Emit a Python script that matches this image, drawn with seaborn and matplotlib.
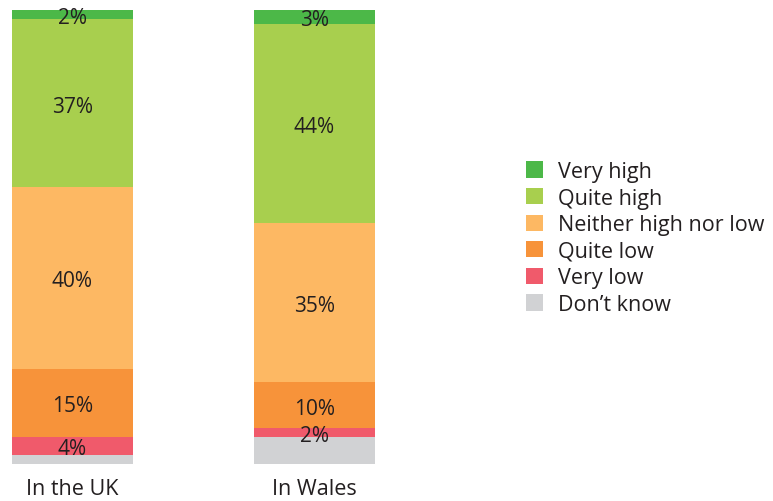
import seaborn as sns
import matplotlib.pyplot as plt
import pandas as pd
import numpy as np
from matplotlib.patches import Patch

# Data (percent), stacked from bottom to top
places = ['In the UK', 'In Wales']
categories = ['Don\u2019t know', 'Very low', 'Quite low', 'Neither high nor low', 'Quite high', 'Very high']
uk = [2, 4, 15, 40, 37, 2]
wales = [6, 2, 10, 35, 44, 3]
colors = ['#d1d2d4', '#f05a6b', '#f7933a', '#fdb863', '#a8cf4e', '#4cb848']
show_label = [False, True, True, True, True, True]

sns.set_style('white')
plt.rcParams['font.family'] = ['Open Sans', 'DejaVu Sans']
text_color = '#231f20'

vals = np.array([uk, wales], dtype=float)  # shape (places, categories)
cum = np.cumsum(vals, axis=1)

fig = plt.figure(figsize=(7.73, 5.02), dpi=100)
ax = fig.add_axes([12 / 773, 37 / 502, 363 / 773, 454 / 502])

# Draw cumulative bars from tallest to shortest so each segment shows
for i in range(len(categories) - 1, -1, -1):
    df = pd.DataFrame({'place': places, 'value': cum[:, i]})
    sns.barplot(data=df, x='place', y='value', color=colors[i], width=0.5,
                saturation=1, errorbar=None, linewidth=0, ax=ax)

# Segment labels
for p in range(len(places)):
    for i, cat in enumerate(categories):
        if not show_label[i]:
            continue
        mid = cum[p, i] - vals[p, i] / 2
        ax.annotate(f'{int(vals[p, i])}%', (p, mid), xytext=(0, -2.2),
                    textcoords='offset points', ha='center', va='center',
                    fontsize=15, color=text_color)

ax.set_xlim(-0.25, 1.25)
ax.set_ylim(0, 100)
ax.set_xlabel('')
ax.set_ylabel('')
ax.set_yticks([])
ax.tick_params(axis='x', length=0, pad=10, labelsize=15.5, labelcolor=text_color)
sns.despine(ax=ax, left=True, bottom=True)

handles = [Patch(facecolor=colors[i], edgecolor='none', label=categories[i])
           for i in range(len(categories) - 1, -1, -1)]
fig.legend(handles=handles, loc='center left', bbox_to_anchor=(526 / 773, 1 - 239 / 502),
           frameon=False, fontsize=15.5, handlelength=0.79, handleheight=0.79,
           handletextpad=0.7, labelspacing=0.26, labelcolor=text_color, borderpad=0,
           borderaxespad=0)

fig.savefig('out.png', dpi=100)
